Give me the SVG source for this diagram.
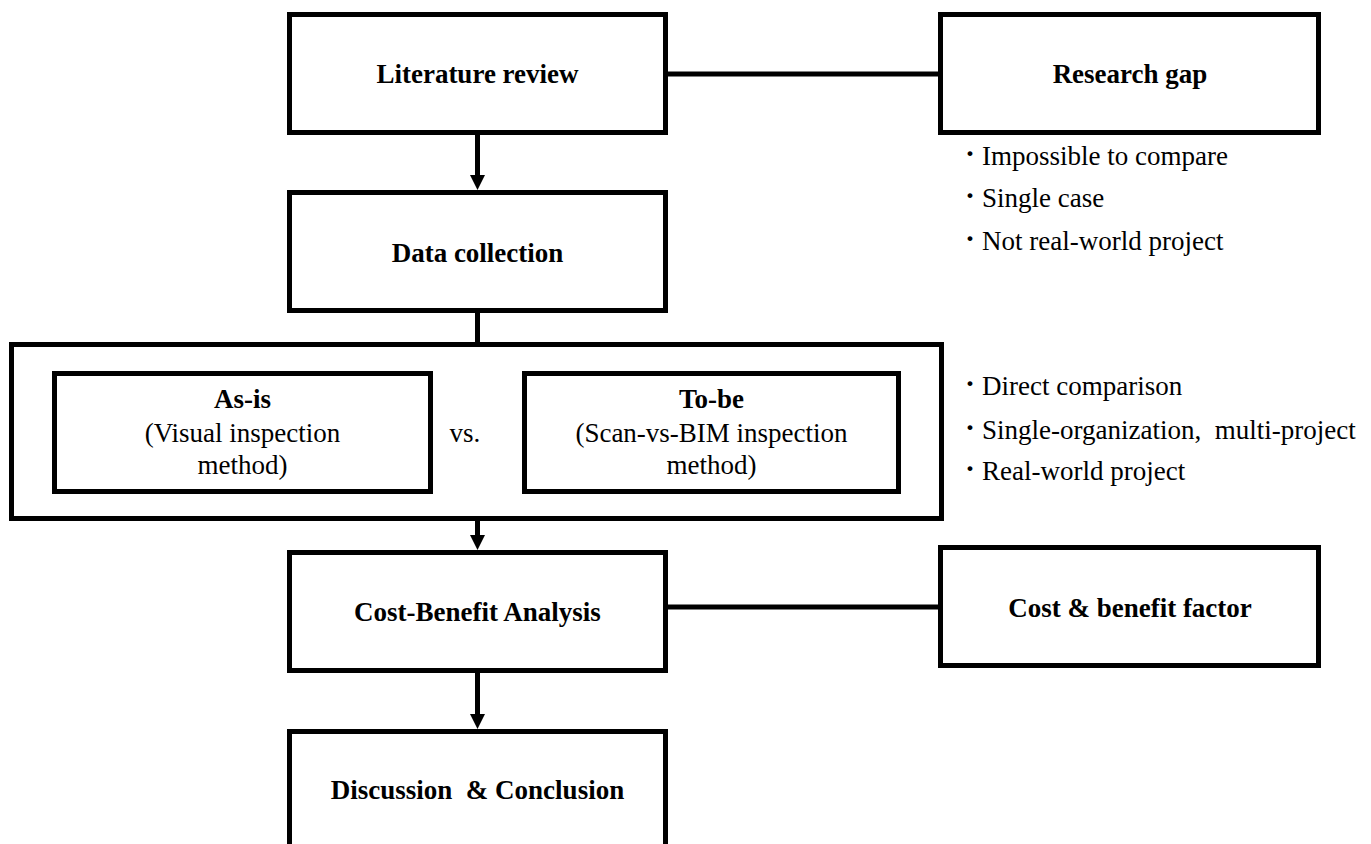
<svg xmlns="http://www.w3.org/2000/svg" width="1371" height="844" viewBox="0 0 1371 844">
<style>
.box{fill:#fff;stroke:#000;stroke-width:5}
.ln{fill:none;stroke:#000;stroke-width:5}
.t{font-family:"Liberation Serif","Times New Roman",serif;font-size:27px;fill:#000}
.b{font-weight:bold}
.c{text-anchor:middle}
.d{font-family:"Liberation Serif","Times New Roman",serif;font-size:30px;font-weight:bold;fill:#000}
</style>
<defs>
<marker id="ah" markerUnits="userSpaceOnUse" markerWidth="16" markerHeight="16" refX="1" refY="7.5" orient="auto">
<path d="M0,0 L15,7.5 L0,15 z" fill="#000"/>
</marker>
</defs>
<rect width="1371" height="844" fill="#fff"/>
<g id="connectors">
<line class="ln" x1="477.5" y1="135" x2="477.5" y2="176" marker-end="url(#ah)"/>
<line class="ln" x1="668" y1="74" x2="938" y2="74"/>
<line class="ln" x1="477.5" y1="313" x2="477.5" y2="342"/>
<line class="ln" x1="477.5" y1="521" x2="477.5" y2="536" marker-end="url(#ah)"/>
<line class="ln" x1="668" y1="607" x2="938" y2="607"/>
<line class="ln" x1="477.5" y1="673" x2="477.5" y2="715" marker-end="url(#ah)"/>
</g>
<g id="literature-review">
<rect class="box" x="289.5" y="14.5" width="376" height="118"/>
<text class="t b c" x="477.5" y="83">Literature review</text>
</g>
<g id="research-gap">
<rect class="box" x="940.5" y="14.5" width="378" height="118"/>
<text class="t b c" x="1130" y="83">Research gap</text>
</g>
<g id="gap-list">
<text class="d" x="965" y="163">·</text><text class="t" x="982" y="165">Impossible to compare</text>
<text class="d" x="965" y="205">·</text><text class="t" x="982" y="207">Single case</text>
<text class="d" x="965" y="248">·</text><text class="t" x="982" y="250">Not real-world project</text>
</g>
<g id="data-collection">
<rect class="box" x="289.5" y="192.5" width="376" height="118"/>
<text class="t b c" x="477.5" y="262">Data collection</text>
</g>
<g id="comparison">
<rect class="box" x="11.5" y="344.5" width="930" height="174"/>
<text class="t c" x="465" y="442">vs.</text>
</g>
<g id="as-is">
<rect class="box" x="54.5" y="373.5" width="376" height="118"/>
<text class="t b c" x="242.5" y="408">As-is</text>
<text class="t c" x="242.5" y="442">(Visual inspection</text>
<text class="t c" x="242.5" y="474">method)</text>
</g>
<g id="to-be">
<rect class="box" x="524.5" y="373.5" width="374" height="118"/>
<text class="t b c" x="711.5" y="408">To-be</text>
<text class="t c" x="711.5" y="442">(Scan-vs-BIM inspection</text>
<text class="t c" x="711.5" y="474">method)</text>
</g>
<g id="contribution-list">
<text class="d" x="965" y="393">·</text><text class="t" x="982" y="395">Direct comparison</text>
<text class="d" x="965" y="437">·</text><text class="t" x="982" y="439" xml:space="preserve">Single-organization,  multi-project</text>
<text class="d" x="965" y="478">·</text><text class="t" x="982" y="480">Real-world project</text>
</g>
<g id="cost-benefit-analysis">
<rect class="box" x="289.5" y="552.5" width="376" height="118"/>
<text class="t b c" x="477.5" y="621">Cost-Benefit Analysis</text>
</g>
<g id="cost-benefit-factor">
<rect class="box" x="940.5" y="547.5" width="378" height="118"/>
<text class="t b c" x="1130" y="617">Cost &amp; benefit factor</text>
</g>
<g id="discussion">
<rect class="box" x="289.5" y="731.5" width="376" height="140"/>
<text class="t b c" x="477.5" y="799" xml:space="preserve">Discussion  &amp; Conclusion</text>
</g>
</svg>
